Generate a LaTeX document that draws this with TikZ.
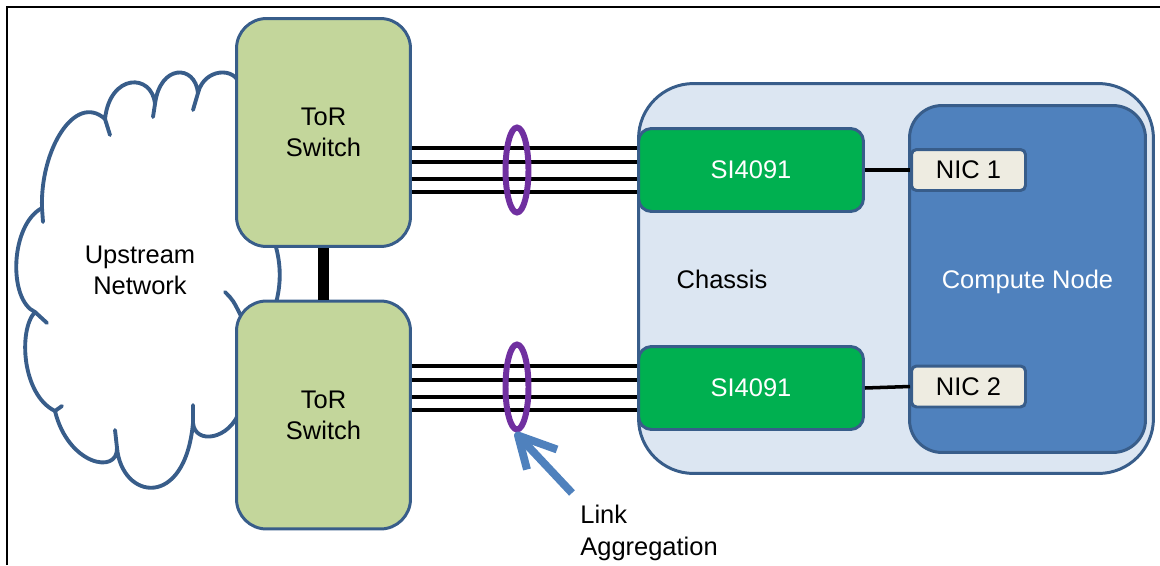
\documentclass[tikz,border=0pt]{standalone}
\usepackage{fontspec}
\setmainfont{Liberation Sans}
\usetikzlibrary{shapes.geometric,arrows.meta}

\definecolor{edgeblue}{RGB}{56,93,138}
\definecolor{torgreen}{RGB}{195,214,155}
\definecolor{sigreen}{RGB}{0,176,80}
\definecolor{chassisblue}{RGB}{220,230,242}
\definecolor{nodeblue}{RGB}{79,129,189}
\definecolor{niccream}{RGB}{238,236,225}
\definecolor{lagpurple}{RGB}{112,48,160}

\begin{document}
\begin{tikzpicture}[x=0.02cm,y=-0.02cm,
    every node/.style={font=\fontsize{14.5}{17.5}\selectfont},
    box/.style={draw=edgeblue,line width=1.7pt,rounded corners=#1,align=center},
    box/.default=0.3cm,
    cloud/.style={draw=edgeblue,line width=2.2pt,line join=round,line cap=round},
    bundle/.style={line width=2.2pt},
    lag/.style={ellipse,draw=lagpurple,line width=3.4pt,inner sep=0pt,minimum width=0.46cm,minimum height=1.7cm}]
    \useasboundingbox (0,0) rectangle (1160,565);
    \draw[line width=0.9pt] (7,565)--(7,7)--(1160,7);

    \draw[cloud] (240,86) .. controls (236,66) and (204,68) .. (198,93)
        .. controls (195,64) and (160,64) .. (155,104)
        .. controls (152,73) and (110,73) .. (105,119)
        .. controls (75,92) and (40,150) .. (42,208)
        .. controls (10,225) and (8,300) .. (35,312)
        .. controls (18,330) and (22,395) .. (55,411)
        .. controls (68,465) and (118,475) .. (117,448)
        .. controls (122,500) and (185,510) .. (193,423)
        .. controls (195,445) and (230,440) .. (240,410)
        -- (270,320) .. controls (283,290) and (283,260) .. (270,230) -- cycle;
    \draw[cloud] (198,93)--(193,110) (155,104)--(153,117) (105,119)--(110,135)
        (42,208)--(43,222) (35,312)--(47,323) (55,411)--(62,406)
        (117,448)--(115,430) (193,423)--(193,405)
        (225,292) .. controls (233,300) .. (242,318);
    \node (up) at (140,270) [align=center]{Upstream\\Network};

    \node[box=0.6cm,fill=torgreen,minimum width=3.48cm,minimum height=4.56cm] (tor1) at (323.5,132.5){ToR\\Switch};
    \node[box=0.6cm,fill=torgreen,minimum width=3.48cm,minimum height=4.56cm] (tor2) at (323.5,415){ToR\\Switch};
    \draw[line width=6.8pt] (tor1.south)--(tor2.north);

    \node[box=1.1cm,fill=chassisblue,minimum width=10.3cm,minimum height=7.8cm] (ch) at (896,278.5){};
    \node (chlabel) at (722,279){Chassis};
    \node[box=0.26cm,fill=sigreen,text=white,minimum width=4.5cm,minimum height=1.66cm] (si1) at (751,170){SI4091};
    \node[box=0.26cm,fill=sigreen,text=white,minimum width=4.5cm,minimum height=1.66cm] (si2) at (751,388){SI4091};
    \node[box=0.65cm,fill=nodeblue,text=white,text depth=0pt,minimum width=4.72cm,minimum height=6.94cm] (cn) at (1027.5,279){Compute Node};
    \node[box=0.1cm,fill=niccream,minimum width=2.28cm,minimum height=0.82cm] (nic1) at (968.5,170){NIC 1};
    \node[box=0.1cm,fill=niccream,minimum width=2.28cm,minimum height=0.82cm] (nic2) at (968.5,386.5){NIC 2};
    \draw[line width=2pt] (si1.east)--(nic1.west);
    \draw[line width=2pt] (si2.east)--(nic2.west);

    \foreach \d in {-22,-8,9,22}{
        \path (si1.west) ++(0,\d) coordinate (r);
        \draw[bundle] (r -| tor1.east)--(r);
        \path (si2.west) ++(0,\d) coordinate (r);
        \draw[bundle] (r -| tor2.east)--(r);
    }
    \node[lag] (lag1) at (517,170){};
    \node[lag] (lag2) at (517,387){};

    \node[anchor=north west,inner sep=0pt,align=left,font=\fontsize{14.5}{18}\selectfont] (lagtext) at (580,505){Link\\Aggregation};
    \coordinate (lagtail) at ([shift={(-8,-12)}]lagtext.north west);
    \draw[nodeblue,line width=4.5pt] (lagtail)--([shift={(1,3)}]lag2.south);
    \draw[nodeblue,line width=4.5pt,line join=round] ([shift={(40,17)}]lag2.south)--([shift={(1,3)}]lag2.south)--([shift={(10,37)}]lag2.south);
\end{tikzpicture}
\end{document}
